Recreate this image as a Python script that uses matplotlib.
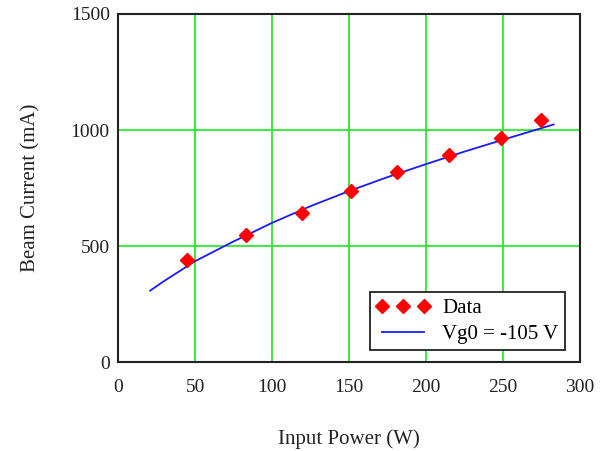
import matplotlib
matplotlib.use("Agg")
import matplotlib.pyplot as plt


# -----------------------------
# Data
# -----------------------------
power_w = [44.6, 83.1, 119.3, 151.1, 181.0, 215.2, 249.1, 274.5]
current_ma = [440, 547, 641, 738, 820, 892, 966, 1043]

fit_power_w = [20.8, 30, 50, 75, 100, 125, 150, 175, 200, 225, 250, 275, 283]
fit_current_ma = [308, 350, 435, 520, 600, 672, 737, 797, 853, 907, 958, 1008, 1024]

x_ticks = [0, 50, 100, 150, 200, 250, 300]
y_ticks = [0, 500, 1000, 1500]

plt.rcParams["font.family"] = ["Liberation Serif", "DejaVu Serif"]

fig = plt.figure(figsize=(6.09, 4.51), dpi=100)
ax = fig.add_axes([0.194, 0.197, 0.758, 0.772])

ax.plot(power_w, current_ma, linestyle="none", marker="D", markersize=7,
        color="#ff0000", label="Data", zorder=3)
ax.plot(fit_power_w, fit_current_ma, color="#1a1aff", linewidth=1.3,
        label="Vg0 = -105 V", zorder=2)

ax.set_xlim(0, 300)
ax.set_ylim(0, 1500)
ax.set_xticks(x_ticks)
ax.set_yticks(y_ticks)
ax.tick_params(length=0, labelsize=14, colors="#222222")
ax.tick_params(axis="x", pad=12)
ax.tick_params(axis="y", pad=6)

ax.grid(True, color="#2ee82e", linewidth=1.3)
ax.set_axisbelow(True)
for spine in ax.spines.values():
    spine.set_color("#222222")
    spine.set_linewidth(1.5)

ax.set_xlabel("Input Power (W)", fontsize=15, labelpad=24, color="#222222")
ax.set_ylabel("Beam Current (mA)", fontsize=15, labelpad=22, color="#222222")

leg = ax.legend(loc="lower right", bbox_to_anchor=(0.968, 0.034), numpoints=3,
                fancybox=False, framealpha=1, edgecolor="#222222",
                fontsize=15, handlelength=2.6, handletextpad=0.6,
                borderpad=0.3, labelspacing=0.3, borderaxespad=0)
leg.get_frame().set_linewidth(1.3)

fig.savefig("out.png", dpi=100)
